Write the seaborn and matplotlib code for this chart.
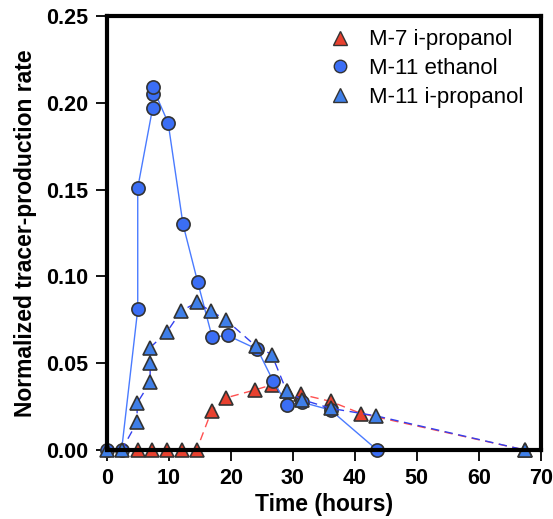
import seaborn as sns
import matplotlib.pyplot as plt
import pandas as pd
from matplotlib.lines import Line2D

# M-7 i-propanol
m7_prop_t = [5.0, 7.3, 9.7, 12.1, 14.5, 16.9, 19.2, 23.9, 26.6, 29.0, 31.4, 36.1, 41.0, 67.4]
m7_prop_y = [0, 0, 0, 0, 0, 0.0225, 0.030, 0.0346, 0.0375, 0.034, 0.032, 0.028, 0.021, 0]

# M-11 ethanol
m11_eth_t = [0, 2.4, 5.0, 5.0, 7.4, 7.4, 7.4, 9.9, 12.3, 14.65, 17.0, 19.5, 24.3, 26.8, 29.1, 31.5, 36.1, 43.6]
m11_eth_y = [0, 0, 0.081, 0.151, 0.197, 0.205, 0.209, 0.1885, 0.130, 0.097, 0.065, 0.066,
             0.058, 0.040, 0.026, 0.0275, 0.023, 0]

# M-11 i-propanol
m11_prop_t = [0, 2.4, 4.9, 4.9, 7.0, 7.0, 7.0, 9.7, 12.0, 14.5, 16.8, 19.2, 24.0, 26.6, 29.0, 31.5, 36.1, 43.5, 67.4]
m11_prop_y = [0, 0, 0.016, 0.027, 0.039, 0.050, 0.059, 0.068, 0.080, 0.085, 0.080, 0.075,
              0.060, 0.055, 0.034, 0.029, 0.024, 0.0196, 0]

red = '#e8412f'
blue_c = '#3b6ef5'
blue_t = '#3f7fe8'
edge = '#333333'

plt.rcParams['font.family'] = ['Liberation Sans', 'DejaVu Sans']
fig = plt.figure(figsize=(5.53, 5.19), dpi=100)
ax = fig.add_axes([0.193, 0.133, 0.785, 0.836])

df1 = pd.DataFrame({'t': m7_prop_t, 'y': m7_prop_y})
df2 = pd.DataFrame({'t': m11_eth_t, 'y': m11_eth_y})
df3 = pd.DataFrame({'t': m11_prop_t, 'y': m11_prop_y})

sns.lineplot(data=df1, x='t', y='y', sort=False, estimator=None, ax=ax, color='#ff5050',
             linestyle=(0, (6, 4)), linewidth=1.0, marker='^', markersize=10,
             markerfacecolor=red, markeredgecolor=edge, markeredgewidth=1.2, clip_on=False)
sns.lineplot(data=df2, x='t', y='y', sort=False, estimator=None, ax=ax, color='#4a7bff',
             linewidth=1.0, marker='o', markersize=9.5,
             markerfacecolor=blue_c, markeredgecolor=edge, markeredgewidth=1.2, clip_on=False)
sns.lineplot(data=df3, x='t', y='y', sort=False, estimator=None, ax=ax, color='#3340ee',
             linestyle=(0, (6, 4)), linewidth=1.0, marker='^', markersize=10,
             markerfacecolor=blue_t, markeredgecolor=edge, markeredgewidth=1.2, clip_on=False)

ax.set_xlim(0, 70)
ax.set_ylim(0, 0.25)
ax.set_xticks(range(0, 71, 10))
ax.set_yticks([0, 0.05, 0.10, 0.15, 0.20, 0.25])
ax.set_yticklabels(['0.00', '0.05', '0.10', '0.15', '0.20', '0.25'])
for s in ax.spines.values():
    s.set_linewidth(3)
ax.tick_params(direction='out', length=8, width=1.3, labelsize=15.5, pad=5)
for lab in ax.get_xticklabels() + ax.get_yticklabels():
    lab.set_fontweight('bold')
ax.set_xlabel('Time (hours)', fontsize=16.5, fontweight='bold', labelpad=3)
ax.set_ylabel('Normalized tracer-production rate', fontsize=16.5, fontweight='bold', labelpad=7)

handles = [
    Line2D([], [], linestyle='none', marker='^', markersize=9.5, markerfacecolor=red, markeredgecolor=edge),
    Line2D([], [], linestyle='none', marker='o', markersize=9, markerfacecolor=blue_c, markeredgecolor=edge),
    Line2D([], [], linestyle='none', marker='^', markersize=9.5, markerfacecolor=blue_t, markeredgecolor=edge),
]
ax.legend(handles, ['M-7 i-propanol', 'M-11 ethanol', 'M-11 i-propanol'], loc='upper right',
          frameon=False, fontsize=16, handletextpad=0.8, labelspacing=0.35,
          borderaxespad=0.5, borderpad=0.1, handlelength=1.0, bbox_to_anchor=(0.99, 1.0))

fig.savefig('out.png', dpi=100)
